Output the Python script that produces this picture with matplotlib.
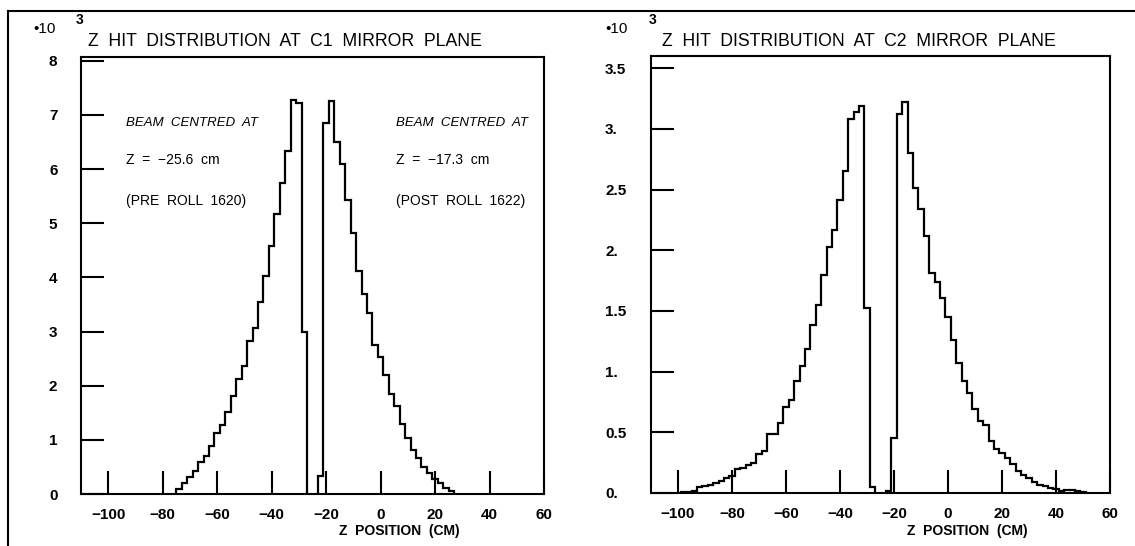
import matplotlib.pyplot as plt
import numpy as np
from matplotlib.lines import Line2D

plt.rcParams['font.family'] = ['Liberation Sans', 'DejaVu Sans']

# hits per 2 cm bin, in units of 10^3
bin_width = 2

# C1 mirror plane
c1_pre_start = -75
c1_pre_counts = [0.09, 0.21, 0.31, 0.43, 0.60, 0.70, 0.89, 1.12, 1.27, 1.52, 1.81, 2.13,
                 2.36, 2.82, 3.06, 3.55, 4.02, 4.58, 5.17, 5.75, 6.33, 7.28, 7.22, 3.00]
c1_post_start = -23
c1_post_counts = [0.34, 6.85, 7.25, 6.50, 6.09, 5.43, 4.82, 4.11, 3.70, 3.34, 2.76, 2.53,
                  2.19, 1.85, 1.63, 1.30, 1.04, 0.81, 0.66, 0.49, 0.38, 0.28, 0.21, 0.12, 0.06]

# C2 mirror plane
c2_pre_start = -99
c2_pre_counts = [0.01, 0.01, 0.02, 0.05, 0.06, 0.07, 0.08, 0.10, 0.12, 0.14, 0.20, 0.21,
                 0.23, 0.25, 0.32, 0.35, 0.49, 0.49, 0.58, 0.71, 0.77, 0.92, 1.05, 1.19,
                 1.38, 1.55, 1.80, 2.03, 2.17, 2.41, 2.65, 3.08, 3.14, 3.19, 1.52, 0.05]
c2_post_start = -23
c2_post_counts = [0.02, 0.45, 3.12, 3.22, 2.80, 2.51, 2.34, 2.12, 1.81, 1.74, 1.61, 1.45,
                  1.26, 1.07, 0.92, 0.82, 0.69, 0.59, 0.56, 0.43, 0.36, 0.33, 0.29, 0.24,
                  0.18, 0.15, 0.12, 0.09, 0.07, 0.055, 0.04, 0.03, 0.02, 0.025, 0.025,
                  0.02, 0.01]

x_ticks = [-100, -80, -60, -40, -20, 0, 20, 40, 60]
x_tick_labels = ['\u2212100', '\u221280', '\u221260', '\u221240', '\u221220', '0', '20', '40', '60']
c1_y_ticks = [0, 1, 2, 3, 4, 5, 6, 7, 8]
c1_y_tick_labels = ['0', '1', '2', '3', '4', '5', '6', '7', '8']
c2_y_ticks = [0, 0.5, 1, 1.5, 2, 2.5, 3, 3.5]
c2_y_tick_labels = ['0.', '0.5', '1.', '1.5', '2.', '2.5', '3.', '3.5']

c1_title = 'Z  HIT  DISTRIBUTION  AT  C1  MIRROR  PLANE'
c2_title = 'Z  HIT  DISTRIBUTION  AT  C2  MIRROR  PLANE'
x_label = 'Z  POSITION  (CM)'
pre_note = ['BEAM  CENTRED  AT', 'Z  =  \u221225.6  cm', '(PRE  ROLL  1620)']
post_note = ['BEAM  CENTRED  AT', 'Z  =  \u221217.3  cm', '(POST  ROLL  1622)']

W, H = 1135, 546
fig = plt.figure(figsize=(W / 100, H / 100), dpi=100)
fig.patch.set_facecolor('white')


def px_axes(x0, y0, x1, y1):
    return fig.add_axes([x0 / W, 1 - y1 / H, (x1 - x0) / W, (y1 - y0) / H])


def edges_for(start, counts):
    return start + bin_width * np.arange(len(counts) + 1)


def style_axes(ax, ylim, yticks, ylabels):
    ax.set_xlim(-110, 60)
    ax.set_ylim(*ylim)
    ax.set_xticks(x_ticks)
    ax.set_xticklabels(x_tick_labels, fontsize=11, fontweight='bold')
    ax.set_yticks(yticks)
    ax.set_yticklabels(ylabels, fontsize=11, fontweight='bold')
    ax.tick_params(direction='in', length=16.5, width=1.5, color='black')
    ax.tick_params(axis='x', pad=10)
    for s in ax.spines.values():
        s.set_linewidth(1.5)


def draw_panel(ax, pre_start, pre_counts, post_start, post_counts):
    ax.stairs(pre_counts, edges_for(pre_start, pre_counts), color='black', lw=1.6)
    ax.stairs(post_counts, edges_for(post_start, post_counts), color='black', lw=1.6)


# left panel
ax1 = px_axes(81, 57, 544, 494)
draw_panel(ax1, c1_pre_start, c1_pre_counts, c1_post_start, c1_post_counts)
style_axes(ax1, (0, 8.07), c1_y_ticks, c1_y_tick_labels)
ax1.tick_params(axis='y', pad=20)
for lbl in ax1.get_yticklabels():
    lbl.set_ha('center')

note_y = [6.86, 6.16, 5.42]
for i, (a, b) in enumerate(zip(pre_note, post_note)):
    if i == 0:
        kw = dict(fontsize=9.5, style='italic')
    else:
        kw = dict(fontsize=10)
    ax1.text(-93.3, note_y[i], a, va='center', ha='left', **kw)
    ax1.text(5.6, note_y[i], b, va='center', ha='left', **kw)

# right panel
ax2 = px_axes(651, 56, 1110, 493)
draw_panel(ax2, c2_pre_start, c2_pre_counts, c2_post_start, c2_post_counts)
style_axes(ax2, (0, 3.6), c2_y_ticks, c2_y_tick_labels)
ax2.tick_params(axis='y', pad=33)
for lbl in ax2.get_yticklabels():
    lbl.set_ha('left')

# titles, scale factors and axis labels
for x0, title in [(88, c1_title), (662, c2_title)]:
    fig.text(x0 / W, 1 - 42 / H, title, fontsize=12.7, ha='left', va='center')
for x0, x3 in [(33, 76), (605, 649)]:
    fig.text(x0 / W, 1 - 29 / H, '\u202210', fontsize=11, ha='left', va='center')
    fig.text(x3 / W, 1 - 20 / H, '3', fontsize=10, fontweight='bold', ha='left', va='center')
for xc in [399, 967]:
    fig.text(xc / W, 1 - 531 / H, x_label, fontsize=10, fontweight='bold', ha='center', va='center')

# outer frame of the scanned page
fig.add_artist(Line2D([7.5 / W, 7.5 / W], [0, 1 - 11 / H], color='black', lw=1.5, transform=fig.transFigure))
fig.add_artist(Line2D([7.5 / W, 1], [1 - 11 / H, 1 - 11 / H], color='black', lw=1.5, transform=fig.transFigure))

fig.savefig('out.png', dpi=100)
